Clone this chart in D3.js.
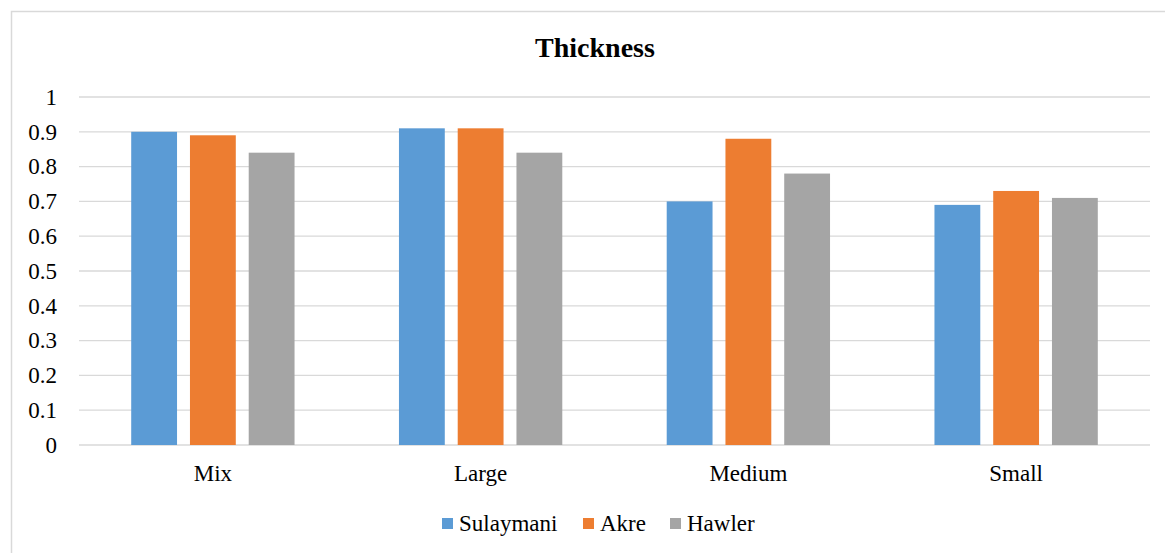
<!DOCTYPE html>
<html><head><meta charset="utf-8">
<script src="https://cdn.jsdelivr.net/npm/d3@7"></script>
<style>body{margin:0;background:#fff}svg{display:block}</style>
</head><body>
<script>
const categories = ["Mix", "Large", "Medium", "Small"];
const seriesNames = ["Sulaymani", "Akre", "Hawler"];
const sulaymani = [0.90, 0.91, 0.70, 0.69];
const akre = [0.89, 0.91, 0.88, 0.73];
const hawler = [0.84, 0.84, 0.78, 0.71];
const yTicks = [0, 0.1, 0.2, 0.3, 0.4, 0.5, 0.6, 0.7, 0.8, 0.9, 1];
const colors = ["#5b9bd5", "#ed7d31", "#a5a5a5"];
const seriesValues = [sulaymani, akre, hawler];

(function () {
const W = 1165, H = 553;
const svg = d3.select("body").append("svg").attr("width", W).attr("height", H);
svg.append("rect").attr("x", 11.5).attr("y", 11.5).attr("width", W + 10).attr("height", H + 10)
  .attr("fill", "#fff").attr("stroke", "#d9d9d9").attr("stroke-width", 1.5);

const pLeft = 79, pRight = 1150, pTop = 97, pBottom = 445;
const font = '"Liberation Serif", "Times New Roman", serif';

const x0 = d3.scaleBand().domain(categories).range([pLeft, pRight]).paddingInner(0.39).paddingOuter(0.195);
const x1 = d3.scaleBand().domain(seriesNames).range([0, x0.bandwidth()]).paddingInner(0.22);
const y = d3.scaleLinear().domain([0, 1]).range([pBottom, pTop]);

svg.append("g").selectAll("line").data(yTicks).join("line")
  .attr("x1", pLeft).attr("x2", pRight)
  .attr("y1", d => y(d)).attr("y2", d => y(d))
  .attr("stroke", "#d9d9d9").attr("stroke-width", 1.3);

const yAxis = d3.axisLeft(y).tickValues(yTicks).tickSize(0).tickPadding(22).tickFormat(d => String(+d.toFixed(1)));
const yg = svg.append("g").attr("transform", `translate(${pLeft},0)`).call(yAxis)
  .attr("font-family", null).attr("font-size", null);
yg.select(".domain").remove();
yg.selectAll("text").style("font-family", font).style("font-size", "23px").attr("fill", "#000");

seriesNames.forEach((s, si) => {
  svg.append("g").selectAll("rect").data(categories).join("rect")
    .attr("x", c => x0(c) + x1(s))
    .attr("width", x1.bandwidth())
    .attr("y", (c, i) => y(seriesValues[si][i]))
    .attr("height", (c, i) => y(0) - y(seriesValues[si][i]))
    .attr("fill", colors[si]);
});

const xAxis = d3.axisBottom(x0).tickSize(0).tickPadding(20);
const xg = svg.append("g").attr("transform", `translate(0,${pBottom})`).call(xAxis)
  .attr("font-family", null).attr("font-size", null);
xg.select(".domain").remove();
xg.selectAll("text").style("font-family", font).style("font-size", "23px").attr("fill", "#000");

svg.append("text").attr("x", 595).attr("y", 57).attr("text-anchor", "middle")
  .style("font-family", font).style("font-size", "28px").style("font-weight", "bold").attr("fill", "#000")
  .text("Thickness");

const legendX = [442, 583, 670];
const lg = svg.append("g");
seriesNames.forEach((s, i) => {
  lg.append("rect").attr("x", legendX[i]).attr("y", 518).attr("width", 11).attr("height", 11).attr("fill", colors[i]);
  lg.append("text").attr("x", legendX[i] + 17).attr("y", 531)
    .style("font-family", font).style("font-size", "23px").attr("fill", "#000").text(s);
});
})();
</script>
</body></html>
